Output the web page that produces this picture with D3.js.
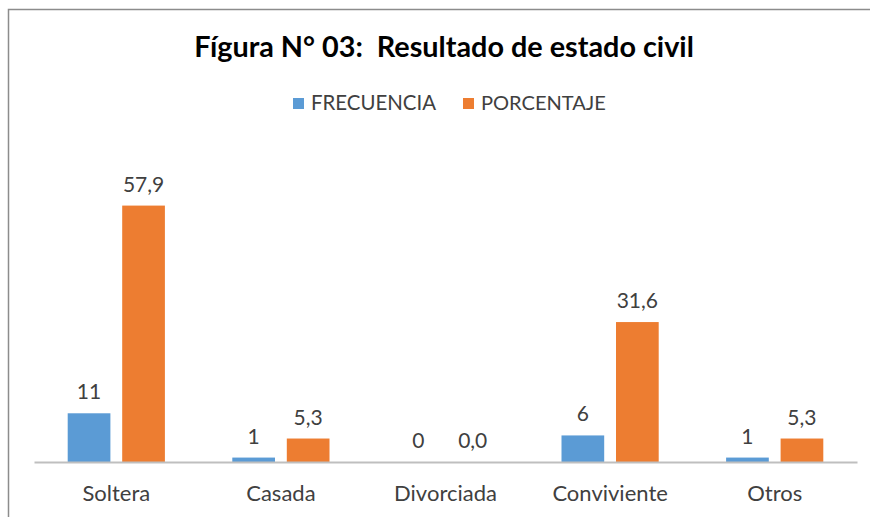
<!DOCTYPE html>
<html><head><meta charset="utf-8">
<script src="https://cdn.jsdelivr.net/npm/d3@7"></script>
<style>body{margin:0;background:#fff}svg{display:block}text{font-family:Lato,"Open Sans",sans-serif}</style>
</head><body>
<svg id="c" width="870" height="517"></svg>
<script>
const categories = ["Soltera","Casada","Divorciada","Conviviente","Otros"];
const seriesNames = ["FRECUENCIA","PORCENTAJE"];
const frecuencia = [11,1,0,6,1];
const porcentaje = [57.9,5.3,0.0,31.6,5.3];
const frecLabels = ["11","1","0","6","1"];
const porcLabels = ["57,9","5,3","0,0","31,6","5,3"];
const colors = ["#5b9bd5","#ed7d31"];
const title = "Fígura N° 03:  Resultado de estado civil";

const svg = d3.select("#c");
svg.append("path").attr("d","M8.5,517 V9.5 H870").attr("fill","none").attr("stroke","#8c8c8c").attr("stroke-width",1.5);

function fit(sel, w){ const n=sel.node(); const l=n.getComputedTextLength(); const fs=parseFloat(sel.attr("font-size")); sel.attr("font-size", fs*w/l); }

const t = svg.append("text").attr("x",444).attr("y",57).attr("text-anchor","middle")
  .attr("font-size",24).attr("font-weight","bold").attr("fill","#000")
  .style("white-space","pre").text(title);
fit(t, 500);

const x0 = d3.scaleBand().domain(categories).range([34,857]);
const x1 = d3.scaleOrdinal().domain(seriesNames).range([-48.6,5.9]);
const bw = 42.7;
const y = d3.scaleLinear().domain([0,70]).range([462,152]);

const legX = [293,463];
seriesNames.forEach((s,i)=>{
  svg.append("rect").attr("x",legX[i]).attr("y",98).attr("width",11).attr("height",11).attr("fill",colors[i]);
  const lt = svg.append("text").attr("x",legX[i]+18).attr("y",110).attr("font-size",17).attr("fill","#404040").text(s);
  fit(lt,125);
});

const data = categories.map((c,i)=>({c, vals:[
  {s:seriesNames[0], v:frecuencia[i], l:frecLabels[i]},
  {s:seriesNames[1], v:porcentaje[i], l:porcLabels[i]}]}));

const g = svg.append("g").selectAll("g").data(data).join("g")
  .attr("transform",d=>`translate(${x0(d.c)+x0.bandwidth()/2},0)`);
g.selectAll("rect").data(d=>d.vals).join("rect")
  .attr("x",d=>x1(d.s)).attr("width",bw)
  .attr("y",d=>y(d.v)).attr("height",d=>y(0)-y(d.v))
  .attr("fill",(d,i)=>colors[i]);
g.selectAll("text").data(d=>d.vals).join("text")
  .attr("x",d=>x1(d.s)+bw/2).attr("y",d=>y(d.v)-14)
  .attr("text-anchor","middle").attr("font-size",21).attr("fill","#404040").text(d=>d.l);

const ax = svg.append("g").attr("transform","translate(0,462)").call(d3.axisBottom(x0).tickSize(0).tickPadding(23));
ax.select(".domain").attr("stroke","#bfbfbf").attr("stroke-width",2);
ax.selectAll("text").attr("font-size",22).attr("fill","#404040").attr("font-family","Lato,'Open Sans',sans-serif");
</script></body></html>
